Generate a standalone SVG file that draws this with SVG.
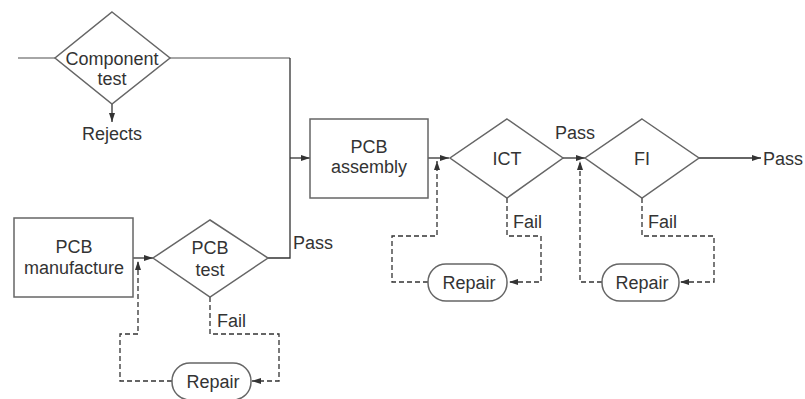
<svg xmlns="http://www.w3.org/2000/svg" width="805" height="399" viewBox="0 0 805 399">
<defs>
<style>
.shape{fill:#fff;stroke:#666;stroke-width:1.5}
.ln{fill:none;stroke:#333;stroke-width:1.3}
.gl{fill:none;stroke:#888;stroke-width:1.5}
.ds{fill:none;stroke:#333;stroke-width:1.3;stroke-dasharray:5,3}
text{font-family:"Liberation Sans",Arial,sans-serif;font-size:18px;fill:#333;text-anchor:middle}
.lb{text-anchor:start}
</style>
<marker id="ar" markerWidth="10" markerHeight="8" refX="9" refY="4" orient="auto" markerUnits="userSpaceOnUse">
<path d="M0,1 L9,4 L0,7 Z" fill="#333"/>
</marker>
</defs>
<g id="connectors">
<path class="gl" d="M18,58 H55"/>
<path class="gl" d="M170,58 H290"/>
<path class="ln" d="M290,58 V258 H268"/>
<path class="ln" d="M290,158 H310" marker-end="url(#ar)"/>
<path class="ln" d="M112,104 V122" marker-end="url(#ar)"/>
<path class="ln" d="M133,258 H153" marker-end="url(#ar)"/>
<path class="ln" d="M428,158 H449" marker-end="url(#ar)"/>
<path class="ln" d="M563,158 H585" marker-end="url(#ar)"/>
<path class="ln" d="M699,158 H761" marker-end="url(#ar)"/>
<path class="ds" d="M210,297 V334 H279 V381 H252" marker-end="url(#ar)"/>
<path class="ds" d="M172,381 H120 V334 H138 V261" marker-end="url(#ar)"/>
<path class="ds" d="M507,198 V236 H541 V282 H509" marker-end="url(#ar)"/>
<path class="ds" d="M428,282 H392 V236 H437 V161" marker-end="url(#ar)"/>
<path class="ds" d="M642,198 V236 H714 V282 H680" marker-end="url(#ar)"/>
<path class="ds" d="M602,282 H580 V161" marker-end="url(#ar)"/>
<text class="lb" x="293" y="249">Pass</text>
<text x="575" y="139">Pass</text>
<text class="lb" x="763" y="165">Pass</text>
<text class="lb" x="217" y="327">Fail</text>
<text class="lb" x="513" y="228">Fail</text>
<text class="lb" x="648" y="228">Fail</text>
<text x="112" y="140">Rejects</text>
</g>
<g id="component-test">
<polygon class="shape" points="112,12 170,58 112,104 55,58"/>
<text x="112" y="65">Component</text>
<text x="112" y="85">test</text>
</g>
<g id="pcb-manufacture">
<rect class="shape" x="14" y="218" width="119" height="79"/>
<text x="74" y="253">PCB</text>
<text x="74" y="274">manufacture</text>
</g>
<g id="pcb-test">
<polygon class="shape" points="210,220 268,258 210,297 153,258"/>
<text x="210" y="254">PCB</text>
<text x="210" y="276">test</text>
</g>
<g id="pcb-assembly">
<rect class="shape" x="310" y="119" width="118" height="79"/>
<text x="369" y="153">PCB</text>
<text x="369" y="173">assembly</text>
</g>
<g id="ict">
<polygon class="shape" points="507,119 563,158 507,198 450,158"/>
<text x="507" y="165">ICT</text>
</g>
<g id="fi">
<polygon class="shape" points="642,119 699,158 642,198 585,158"/>
<text x="642" y="165">FI</text>
</g>
<g id="repair-1">
<rect class="shape" x="172" y="363" width="79" height="37" rx="18"/>
<text x="213" y="388">Repair</text>
</g>
<g id="repair-2">
<rect class="shape" x="428" y="264" width="79" height="37" rx="18"/>
<text x="469" y="289">Repair</text>
</g>
<g id="repair-3">
<rect class="shape" x="602" y="264" width="77" height="37" rx="18"/>
<text x="642" y="289">Repair</text>
</g>
</svg>
